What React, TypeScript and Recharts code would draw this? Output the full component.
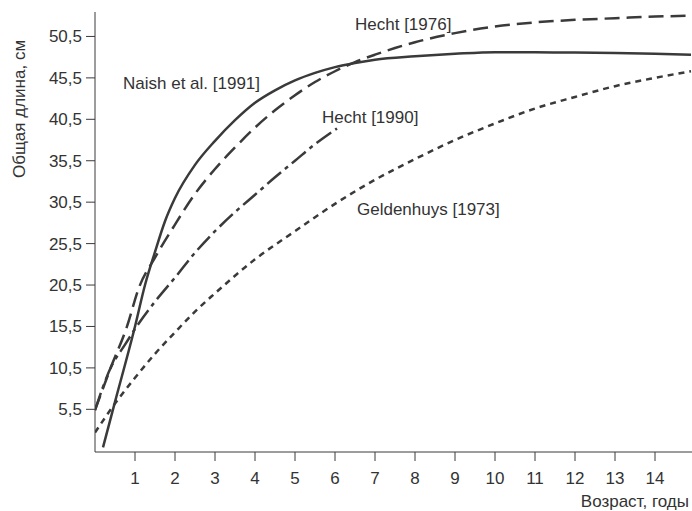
import React from "react";
import { LineChart, Line, XAxis, YAxis } from "recharts";

const naishAges = [0.2, 0.5, 1, 1.25, 1.5, 1.75, 2, 2.5, 3, 3.5, 4, 4.5, 5, 5.5, 6, 6.5, 7, 8, 9, 10, 11, 12, 13, 14, 14.9];
const naishLengths = [0.9, 6.4, 15.5, 20.5, 24.5, 28.2, 31.0, 35.0, 37.9, 40.4, 42.5, 44.0, 45.2, 46.1, 46.8, 47.3, 47.7, 48.1, 48.4, 48.6, 48.6, 48.55, 48.5, 48.4, 48.3];

const hecht1976Ages = [0, 0.4, 0.8, 1.1, 1.5, 2, 2.5, 3, 3.5, 4, 4.5, 5, 5.5, 6, 6.5, 7, 7.5, 8, 9, 10, 11, 12, 13, 14, 14.9];
const hecht1976Lengths = [5.4, 10.6, 15.5, 20.2, 23.8, 27.8, 31.5, 34.5, 37.1, 39.5, 41.6, 43.4, 45.0, 46.3, 47.4, 48.3, 49.1, 49.8, 50.9, 51.7, 52.2, 52.5, 52.7, 52.9, 53.0];

const hecht1990Ages = [0, 0.4, 0.75, 1, 1.5, 2, 2.5, 3, 3.5, 4, 4.5, 5, 5.5, 6.05];
const hecht1990Lengths = [5.4, 10.6, 13.3, 15.2, 18.5, 21.4, 24.4, 27.0, 29.3, 31.4, 33.5, 35.5, 37.5, 39.4];

const geldenhuysAges = [0, 0.5, 1, 1.5, 2, 2.5, 3, 4, 5, 6, 7, 8, 9, 10, 11, 12, 13, 14, 14.9];
const geldenhuysLengths = [2.7, 6.2, 9.3, 12.2, 14.8, 17.3, 19.5, 23.6, 27.0, 30.3, 33.2, 35.7, 38.0, 40.0, 41.8, 43.2, 44.5, 45.5, 46.3];

const xTicks = [1, 2, 3, 4, 5, 6, 7, 8, 9, 10, 11, 12, 13, 14];
const yTicks = [5.5, 10.5, 15.5, 20.5, 25.5, 30.5, 35.5, 40.5, 45.5, 50.5];

const seriesLabels = ["Naish et al. [1991]", "Hecht [1976]", "Hecht [1990]", "Geldenhuys [1973]"];
const xTitle = "Возраст, годы";
const yTitle = "Общая длина, см";

const toRows = (ages: number[], lens: number[]) => ages.map((a, i) => ({ age: a, len: lens[i] }));

const ink = "#3a3a3a";
const textInk = "#333";
const font = "'Liberation Sans', Arial, sans-serif";

export default function App() {
  return (
    <div style={{ position: "absolute", left: 0, top: 0, background: "#fff" }}>
      <LineChart
        width={692}
        height={511}
        margin={{ top: 12, right: 0, left: 0, bottom: 0 }}
        style={{ fontFamily: font }}
      >
        <XAxis
          type="number"
          dataKey="age"
          domain={[0, 14.925]}
          ticks={xTicks}
          allowDataOverflow
          height={59}
          tickSize={9}
          tickMargin={11}
          stroke={ink}
          tick={{ fill: textInk, fontSize: 17, fontFamily: font }}
        />
        <YAxis
          type="number"
          dataKey="len"
          domain={[0.35, 53.45]}
          ticks={yTicks}
          allowDataOverflow
          width={95}
          tickSize={9}
          tickMargin={4}
          stroke={ink}
          tickFormatter={(v: number) => v.toFixed(1).replace(".", ",")}
          tick={{ fill: textInk, fontSize: 17, fontFamily: font }}
        />
        <Line
          data={toRows(naishAges, naishLengths)}
          dataKey="len"
          type="monotone"
          stroke={ink}
          strokeWidth={2.5}
          dot={false}
          isAnimationActive={false}
        />
        <Line
          data={toRows(hecht1976Ages, hecht1976Lengths)}
          dataKey="len"
          type="monotone"
          stroke={ink}
          strokeWidth={2.5}
          strokeDasharray="15 7"
          dot={false}
          isAnimationActive={false}
        />
        <Line
          data={toRows(hecht1990Ages, hecht1990Lengths)}
          dataKey="len"
          type="monotone"
          stroke={ink}
          strokeWidth={2.5}
          strokeDasharray="18 5 4 5"
          dot={false}
          isAnimationActive={false}
        />
        <Line
          data={toRows(geldenhuysAges, geldenhuysLengths)}
          dataKey="len"
          type="monotone"
          stroke={ink}
          strokeWidth={2.5}
          strokeDasharray="6 5"
          dot={false}
          isAnimationActive={false}
        />
        <g style={{ fontFamily: font, fontSize: 17 }} fill={textInk}>
          <text x={123} y={89}>{seriesLabels[0]}</text>
          <text x={355} y={30}>{seriesLabels[1]}</text>
          <text x={322} y={123}>{seriesLabels[2]}</text>
          <text x={357} y={215}>{seriesLabels[3]}</text>
          <text x={689} y={507} textAnchor="end">{xTitle}</text>
          <text x={25} y={109} textAnchor="middle" transform="rotate(-90, 25, 109)">{yTitle}</text>
        </g>
      </LineChart>
    </div>
  );
}
